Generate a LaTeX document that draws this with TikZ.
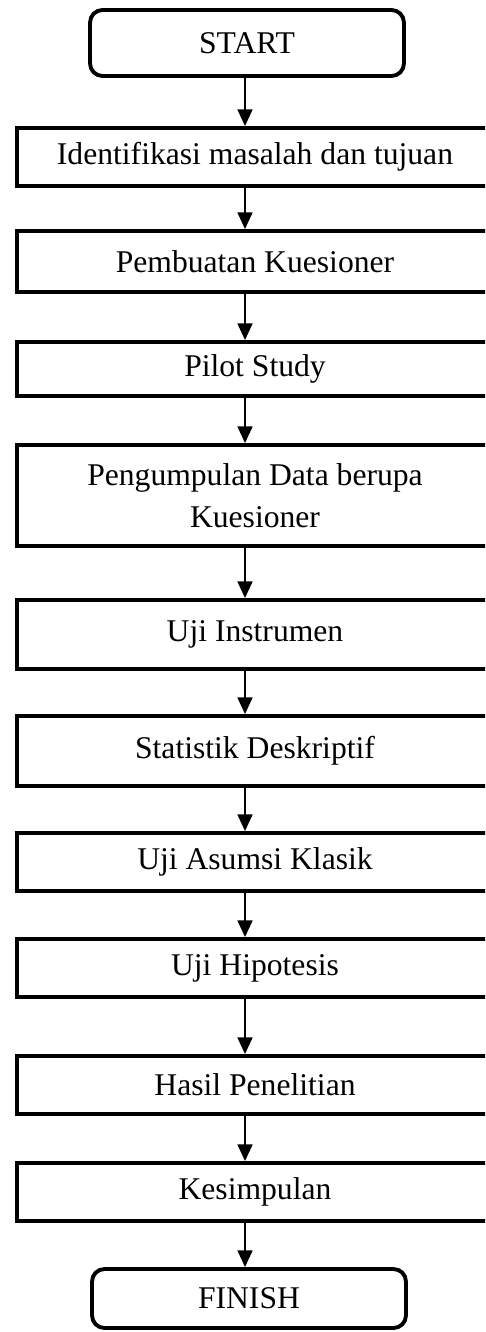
\documentclass[tikz,border=0pt]{standalone}
\usepackage{fontspec}
\setmainfont{Liberation Serif}
\usepackage{tikz}
\usetikzlibrary{shapes.geometric, arrows.meta}
\tikzstyle{process} = [rectangle, draw, line width=2.2pt, minimum width=9.52cm, inner sep=0pt, align=center, font=\fontsize{18}{24}\selectfont]
\tikzstyle{startstop} = [rectangle, rounded corners=0.25cm, draw, line width=2.2pt, minimum width=6.28cm, inner sep=0pt, font=\fontsize{18}{24}\selectfont]
\tikzstyle{arrow} = [line width=1.1pt,-{Triangle[width=8.5pt,length=9.5pt]}]

\begin{document}
\begin{tikzpicture}[x=0.02cm,y=-0.02cm]
                            \useasboundingbox (0,0) rectangle (485,1332);
                            \clip (0,0) rectangle (485,1332);
                            \coordinate (axis) at (245,0);
                            \node (start) at (247,43) [startstop, minimum height=1.32cm] {START};
                            \node (ident) at (255,157) [process, minimum height=1.16cm] {Identifikasi masalah dan tujuan};
                            \node (buat) at (255,261.5) [process, minimum height=1.22cm] {Pembuatan Kuesioner};
                            \node (pilot) at (255,369) [process, minimum height=1.08cm] {Pilot Study};
                            \node (kumpul) at (255,495.5) [process, minimum height=2.02cm] {Pengumpulan Data berupa\\Kuesioner};
                            \node (instrumen) at (255,634.5) [process, minimum height=1.38cm] {Uji Instrumen};
                            \node (statistik) at (255,751) [process, minimum height=1.40cm] {Statistik Deskriptif};
                            \node (asumsi) at (255,862) [process, minimum height=1.16cm] {Uji Asumsi Klasik};
                            \node (hipotesis) at (255,968) [process, minimum height=1.16cm] {Uji Hipotesis};
                            \node (hasil) at (255,1085) [process, minimum height=1.16cm] {Hasil Penelitian};
                            \node (simpul) at (255,1192) [process, minimum height=1.16cm] {Kesimpulan};
                            \node (finish) at (249,1298.5) [startstop, minimum height=1.18cm] {FINISH};
                            \draw [arrow] (start.south -| axis) -- (ident.north -| axis);
                            \draw [arrow] (ident.south -| axis) -- (buat.north -| axis);
                            \draw [arrow] (buat.south -| axis) -- (pilot.north -| axis);
                            \draw [arrow] (pilot.south -| axis) -- (kumpul.north -| axis);
                            \draw [arrow] (kumpul.south -| axis) -- (instrumen.north -| axis);
                            \draw [arrow] (instrumen.south -| axis) -- (statistik.north -| axis);
                            \draw [arrow] (statistik.south -| axis) -- (asumsi.north -| axis);
                            \draw [arrow] (asumsi.south -| axis) -- (hipotesis.north -| axis);
                            \draw [arrow] (hipotesis.south -| axis) -- (hasil.north -| axis);
                            \draw [arrow] (hasil.south -| axis) -- (simpul.north -| axis);
                            \draw [arrow] (simpul.south -| axis) -- (finish.north -| axis);
                        \end{tikzpicture}
\end{document}
